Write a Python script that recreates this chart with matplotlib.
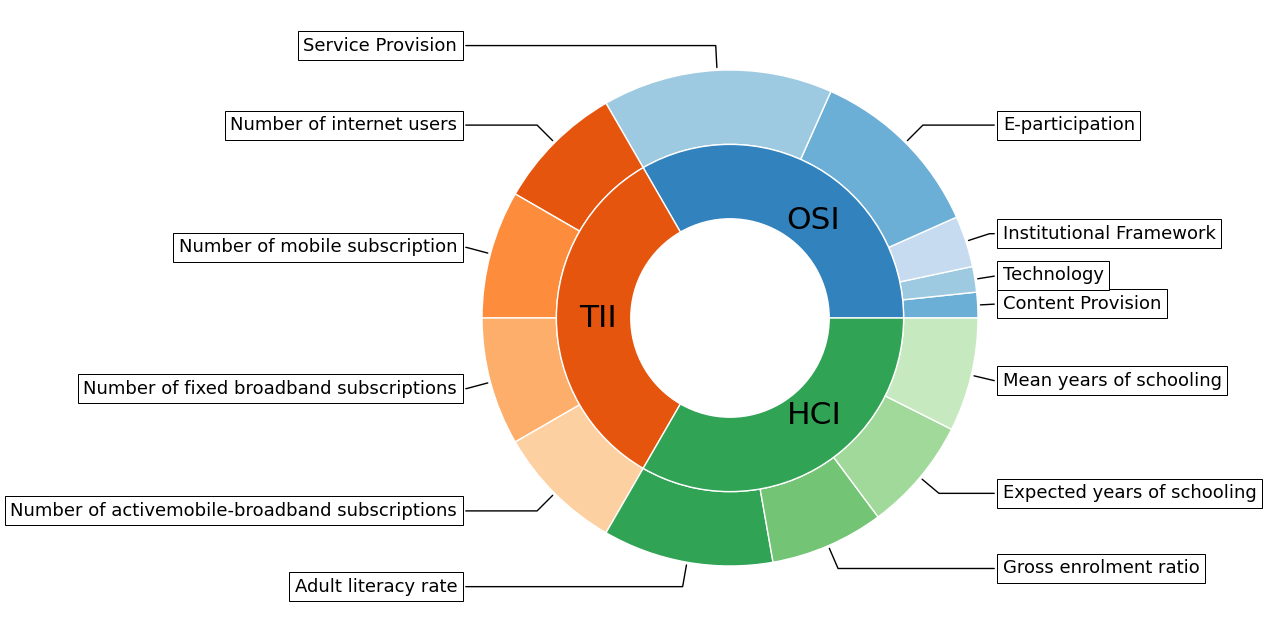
import numpy as np
import matplotlib
matplotlib.use('Agg')
import matplotlib.pyplot as plt

# Anillo interior: indices
indices = ['OSI', 'TII', 'HCI']
pesos_indices = [1/3, 1/3, 1/3]

# Anillo exterior: subindices (pesos)
subindices = ['Content Provision', 'Technology', 'Institutional Framework',
              'E-participation', 'Service Provision',
              'Number of internet users', 'Number of mobile subscription',
              'Number of fixed broadband subscriptions',
              'Number of activemobile-broadband subscriptions',
              'Adult literacy rate', 'Gross enrolment ratio',
              'Expected years of schooling', 'Mean years of schooling']
pesos_osi = [0.05, 0.05, 0.10, 0.35, 0.45]
pesos_tii = [0.25, 0.25, 0.25, 0.25]
pesos_hci = [1/3, 2/9, 2/9, 2/9]

pesos_sub = np.concatenate([np.array(pesos_osi) / 3,
                            np.array(pesos_tii) / 3,
                            np.array(pesos_hci) / 3])

cmap = plt.get_cmap('tab20c')
colores_in = cmap([0, 4, 8])
colores_out = cmap([1, 2, 3, 1, 2, 4, 5, 6, 7, 8, 9, 10, 11])

fig = plt.figure(figsize=(12.67, 6.36), dpi=100)
ax = fig.add_axes([0, 0, 1, 1])

size = 0.3
wedges, _ = ax.pie(pesos_sub, radius=1, colors=colores_out, startangle=0,
                   wedgeprops=dict(width=size, edgecolor='w'))

ax.pie(pesos_indices, radius=1 - size, colors=colores_in, startangle=0,
       labels=indices, labeldistance=0.65, textprops=dict(fontsize=22.5),
       wedgeprops=dict(width=size, edgecolor='w'))

# Etiquetas con cajas y conectores
bbox_props = dict(boxstyle="square,pad=0.3", fc="w", ec="k", lw=0.72)
kw = dict(arrowprops=dict(arrowstyle="-"), bbox=bbox_props, zorder=0,
          va="center", fontsize=13)

for i, p in enumerate(wedges):
    ang = (p.theta2 - p.theta1) / 2. + p.theta1
    y = np.sin(np.deg2rad(ang))
    x = np.cos(np.deg2rad(ang))
    ha = {-1: "right", 1: "left"}[int(np.sign(x))]
    conn = f"angle,angleA=0,angleB={ang}"
    kw["arrowprops"].update({"connectionstyle": conn})
    ax.annotate(subindices[i], xy=(x, y), xytext=(1.1 * np.sign(x), 1.1 * y),
                horizontalalignment=ha, **kw)

ax.set_aspect('auto')
ax.set_xlim(-730 / 248, (1267 - 730) / 248)
ax.set_ylim(-318 / 248, 318 / 248)
ax.axis('off')

plt.savefig('out.png', dpi=100)
